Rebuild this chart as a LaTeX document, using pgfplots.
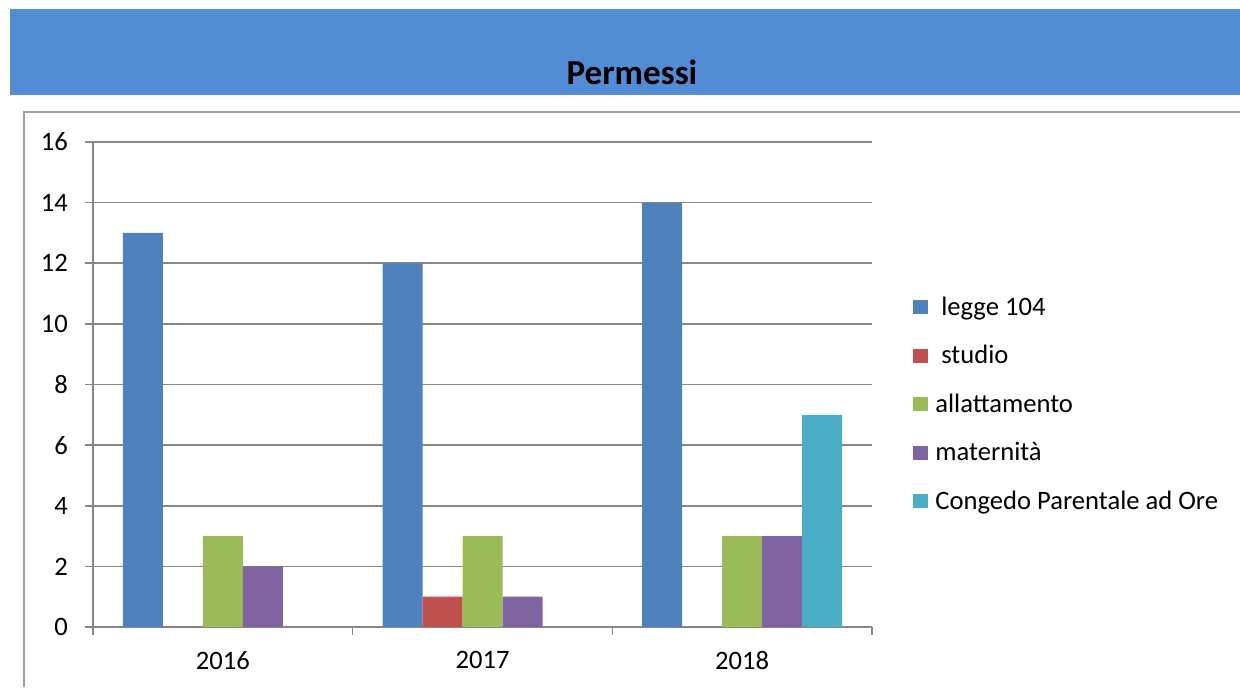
\documentclass[border=0pt]{standalone}
\usepackage{pgfplots}
\pgfplotsset{compat=1.18}
\usepackage{fontspec}
\setmainfont{Carlito}
\definecolor{banner}{RGB}{82,140,213}
\definecolor{c1}{RGB}{79,129,189}
\definecolor{c2}{RGB}{192,80,77}
\definecolor{c3}{RGB}{155,187,89}
\definecolor{c4}{RGB}{128,100,162}
\definecolor{c5}{RGB}{75,172,198}
\definecolor{gridc}{RGB}{134,134,134}
\definecolor{framec}{RGB}{160,160,160}
\begin{document}
\begin{tikzpicture}
\path[use as bounding box] (0pt,0pt) rectangle (620pt,343.5pt);
\fill[banner] (5pt,339pt) rectangle (620pt,296pt);
\node[font=\fontsize{17.5}{20}\selectfont\bfseries, anchor=base, inner sep=0pt] at (316pt,301.5pt) {Permessi};
\draw[framec, line width=1pt] (12pt,0pt) -- (12pt,287.5pt) -- (620pt,287.5pt);
\begin{axis}[
  at={(46.5pt,30pt)}, anchor=south west,
  scale only axis, width=389.5pt, height=242.5pt,
  ybar=0pt, bar width=20pt,
  xmin=-0.5, xmax=2.5, ymin=0, ymax=16,
  ytick={0,2,...,16},
  xtick={0,1,2}, xticklabels={2016,2017,2018},
  axis lines*=left,
  axis line style={gridc, line width=0.8pt},
  ymajorgrids, grid style={gridc, line width=0.8pt},
  major tick length=4pt, tick align=outside,
  ytick style={gridc, line width=0.8pt},
  xtick style={draw=none},
  extra x ticks={-0.5,0.5,1.5,2.5},
  extra x tick labels={},
  extra x tick style={xtick style={draw=gridc, line width=0.8pt}, grid=none},
  /pgf/number format/assume math mode=true,
  ticklabel style={font=\fontsize{13.3}{16}\selectfont, text=black},
  yticklabel style={xshift=-5pt},
  xticklabel style={yshift=-4.5pt},
  legend style={at={(1.0526,0.6845)}, anchor=north west, draw=none, fill=none,
    inner sep=0pt, row sep=11.25pt, font=\fontsize{13.3}{16}\selectfont,
    nodes={inner xsep=3.5pt, inner ysep=0pt, text height=10pt, text depth=3pt}},
  legend cell align=left,
  legend image code/.code={\fill[#1] (0pt,-3pt) rectangle (7.5pt,4pt);},
]
\addplot[fill=c1, draw=none] coordinates {(0,13) (1,12) (2,14)};
\addlegendentry{\hspace{3pt}legge 104}
\addplot[fill=c2, draw=none] coordinates {(0,0) (1,1) (2,0)};
\addlegendentry{\hspace{3pt}studio}
\addplot[fill=c3, draw=none] coordinates {(0,3) (1,3) (2,3)};
\addlegendentry{allattamento}
\addplot[fill=c4, draw=none] coordinates {(0,2) (1,1) (2,3)};
\addlegendentry{maternità}
\addplot[fill=c5, draw=none] coordinates {(0,0) (1,0) (2,7)};
\addlegendentry{Congedo Parentale ad Ore}
\end{axis}
\end{tikzpicture}
\end{document}
